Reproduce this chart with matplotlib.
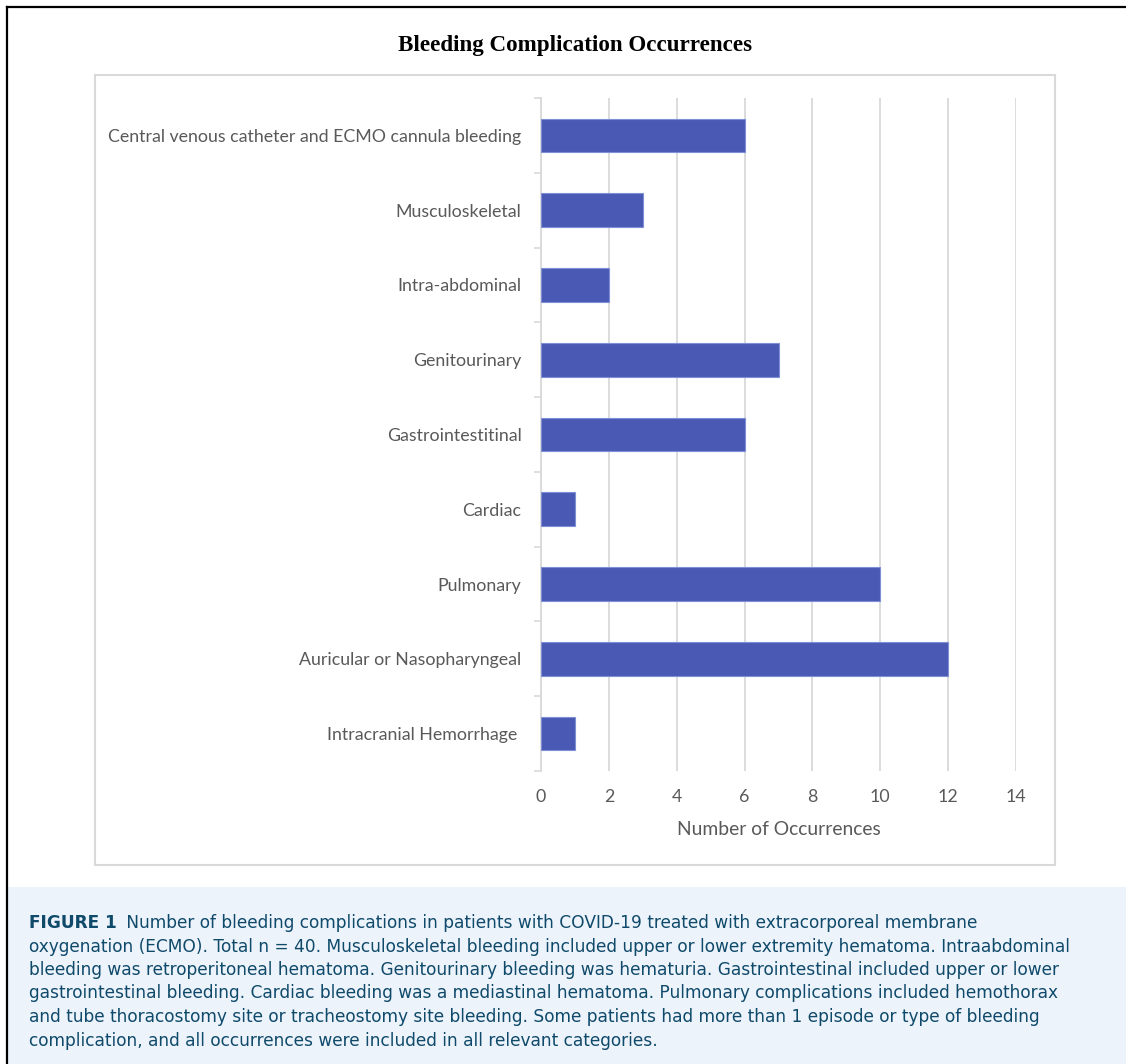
import matplotlib
matplotlib.use('Agg')
import matplotlib.pyplot as plt
from matplotlib.patches import Rectangle
from matplotlib.lines import Line2D
import numpy as np

# categories top to bottom, as in the reference
categories = ['Central venous catheter and ECMO cannula bleeding',
              'Musculoskeletal',
              'Intra-abdominal',
              'Genitourinary',
              'Gastrointestitinal',
              'Cardiac',
              'Pulmonary',
              'Auricular or Nasopharyngeal',
              'Intracranial Hemorrhage ']
occurrences = [6, 3, 2, 7, 6, 1, 10, 12, 1]
x_ticks = [0, 2, 4, 6, 8, 10, 12, 14]

title = 'Bleeding Complication Occurrences'
x_label = 'Number of Occurrences'
caption_head = 'FIGURE 1'
caption_lines = [
    ' Number of bleeding complications in patients with COVID-19 treated with extracorporeal membrane',
    'oxygenation (ECMO). Total n = 40. Musculoskeletal bleeding included upper or lower extremity hematoma. Intraabdominal',
    'bleeding was retroperitoneal hematoma. Genitourinary bleeding was hematuria. Gastrointestinal included upper or lower',
    'gastrointestinal bleeding. Cardiac bleeding was a mediastinal hematoma. Pulmonary complications included hemothorax',
    'and tube thoracostomy site or tracheostomy site bleeding. Some patients had more than 1 episode or type of bleeding',
    'complication, and all occurrences were included in all relevant categories.',
]

W, H = 1126, 1064
fig = plt.figure(figsize=(W / 100, H / 100), dpi=100)
fig.patch.set_facecolor('white')

def fx(px):
    return px / W

def fy(py):
    return 1 - py / H

# outer black frame (top and left edges visible)
fig.add_artist(Line2D([fx(7), 1.0], [fy(7), fy(7)], color='black', lw=1.6))
fig.add_artist(Line2D([fx(7), fx(7)], [fy(7), 0.0], color='black', lw=1.6))

# light gray chart box
fig.add_artist(Rectangle((fx(95), fy(865)), fx(1055) - fx(95), fy(75) - fy(865),
                         facecolor='white', edgecolor='#d9d9d9', lw=1.5, zorder=-1))

# caption background
fig.add_artist(Rectangle((fx(8), 0), 1 - fx(8), fy(887), facecolor='#edf3fa',
                         edgecolor='none', zorder=-1))

fig.text(fx(575), fy(45), title, ha='center', va='center',
         fontsize=16.6, fontweight='bold', family='Liberation Serif', color='black')

ax = fig.add_axes([fx(541), fy(771), fx(1016) - fx(541), fy(98) - fy(771)])
ax.set_facecolor('none')
ax.set_zorder(2)

y = np.arange(len(categories))
ax.barh(y, occurrences, height=0.45, color='#4a5ab4', edgecolor='#7f8fd6',
        linewidth=0.8, zorder=3)
ax.set_ylim(len(categories) - 0.5, -0.5)
ax.set_xlim(0, 14)

ax.set_xticks(x_ticks)
ax.set_xticklabels([str(t) for t in x_ticks], fontsize=12.8, family='Lato', color='#595959')
ax.set_yticks(y)
ax.set_yticklabels(categories, fontsize=12.8, family='Lato', color='#595959')
ax.set_yticks(np.arange(len(categories) + 1) - 0.5, minor=True)
ax.tick_params(axis='x', length=0, pad=13)
ax.tick_params(axis='y', which='major', length=0, pad=14)
ax.tick_params(axis='y', which='minor', length=5, color='#d9d9d9', width=1.2)

ax.grid(axis='x', color='#d9d9d9', lw=1.3, zorder=0)
for s in ['top', 'right', 'bottom']:
    ax.spines[s].set_visible(False)
ax.spines['left'].set_color('#d9d9d9')
ax.spines['left'].set_linewidth(1.3)

ax.set_xlabel(x_label, fontsize=13.9, family='Lato', color='#595959', labelpad=11.5)

# caption text
cap_color = '#0f4a6b'
cap_font = 'DejaVu Sans'
cap_size = 12.25
x0 = fx(29)
baseline0 = 928
step = 23.5
renderer = fig.canvas.get_renderer()
head = fig.text(x0, fy(baseline0), caption_head, ha='left', va='baseline',
                fontsize=cap_size, fontweight='heavy', family=cap_font, color=cap_color)
bb = head.get_window_extent(renderer=renderer)
x_after = bb.x1 / W + fx(4)
for i, line in enumerate(caption_lines):
    xs = x_after if i == 0 else x0
    fig.text(xs, fy(baseline0 + step * i), line, ha='left', va='baseline',
             fontsize=cap_size, family=cap_font, color=cap_color)

fig.savefig('out.png', dpi=100)
